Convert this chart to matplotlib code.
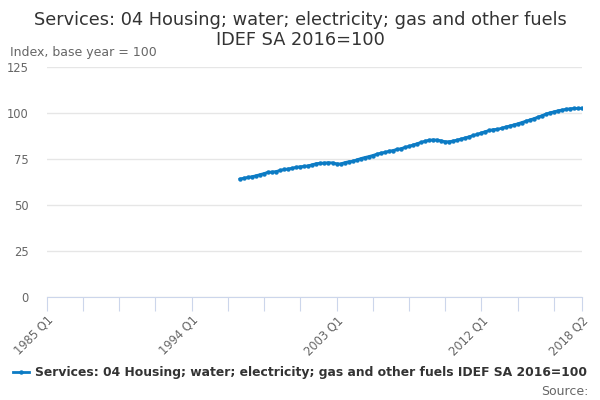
import numpy as np
import matplotlib
matplotlib.use("Agg")
import matplotlib.pyplot as plt

# quarterly index values, 1997 Q1 to 2018 Q2
years = list(range(1997, 2019))
values = [
    64.1, 64.6, 65.0, 65.4,   # 1997
    65.9, 66.5, 67.1, 67.8,   # 1998
    67.9, 68.2, 68.8, 69.3,   # 1999
    69.6, 70.0, 70.5, 70.8,   # 2000
    71.0, 71.3, 71.9, 72.5,   # 2001
    72.7, 72.8, 73.0, 72.9,   # 2002
    72.4, 72.3, 73.0, 73.5,   # 2003
    73.8, 74.5, 75.2, 75.8,   # 2004
    76.3, 76.9, 77.6, 78.2,   # 2005
    78.6, 79.2, 79.6, 80.2,   # 2006
    80.6, 81.3, 81.9, 82.6,   # 2007
    83.3, 84.0, 84.7, 85.2,   # 2008
    85.4, 85.3, 84.9, 84.4,   # 2009
    84.4, 84.8, 85.3, 85.9,   # 2010
    86.5, 87.1, 87.8, 88.4,   # 2011
    89.2, 89.9, 90.5, 91.0,   # 2012
    91.1, 91.7, 92.4, 92.9,   # 2013
    93.5, 94.1, 94.8, 95.5,   # 2014
    96.2, 96.9, 97.7, 98.5,   # 2015
    99.4, 100.1, 100.6, 101.2,  # 2016
    101.6, 102.0, 102.3, 102.5,  # 2017
    102.5, 102.6,             # 2018 Q1-Q2
]
axis_start = 1985
axis_end = (2018, 2)
y_ticks = [0, 25, 50, 75, 100, 125]
label_ticks = ["1985 Q1", "1994 Q1", "2003 Q1", "2012 Q1", "2018 Q2"]
series_name = "Services: 04 Housing; water; electricity; gas and other fuels IDEF SA 2016=100"

# quarter index counted from 1985 Q1
q = np.arange(len(values)) + (1997 - axis_start) * 4
q_end = (axis_end[0] - axis_start) * 4 + axis_end[1] - 1

plt.rcParams['font.family'] = ['DejaVu Sans']
fig = plt.figure(figsize=(6, 4), dpi=100)
ax = fig.add_axes([0.078, 0.2575, 0.892, 0.575])

blue = '#0c7bc4'
line, = ax.plot(q, values, color=blue, lw=2, marker='o', ms=3.2, mew=0, zorder=3)

ax.set_xlim(0, q_end)
ax.set_ylim(0, 125)
ax.set_yticks(y_ticks)
ax.grid(axis='y', color='#e6e6e6', lw=1)
ax.set_axisbelow(True)

ticks = list(range(0, q_end, 9)) + [q_end]
labels = []
for t in ticks:
    name = "%d Q%d" % (axis_start + t // 4, t % 4 + 1)
    labels.append(name if name in label_ticks else "")
ax.set_xticks(ticks)
ax.set_xticklabels(labels, rotation=45, ha='right', rotation_mode='anchor')

for s in ['left', 'right', 'top']:
    ax.spines[s].set_visible(False)
ax.spines['bottom'].set_color('#ccd6eb')
ax.tick_params(axis='x', length=10, color='#ccd6eb', labelsize=8.3, labelcolor='#666666', pad=2)
ax.tick_params(axis='y', length=0, labelsize=8.3, labelcolor='#666666', pad=13)

fig.text(0.5, 0.95, "Services: 04 Housing; water; electricity; gas and other fuels",
         ha='center', va='center', fontsize=12.8, color='#333333')
fig.text(0.5, 0.90, "IDEF SA 2016=100", ha='center', va='center', fontsize=12.8, color='#333333')
fig.text(0.017, 0.869, "Index, base year = 100", ha='left', va='center', fontsize=9, color='#666666')

leg = fig.legend([line], [series_name], loc='center left', bbox_to_anchor=(0.022, 0.068),
                 frameon=False, handlelength=1.3, handletextpad=0.45, borderaxespad=0,
                 borderpad=0, prop={'weight': 'bold', 'size': 8.9})
for t in leg.get_texts():
    t.set_color('#333333')
fig.text(0.98, 0.022, "Source:", ha='right', va='center', fontsize=9, color='#666666')

fig.savefig("out.png", dpi=100)
